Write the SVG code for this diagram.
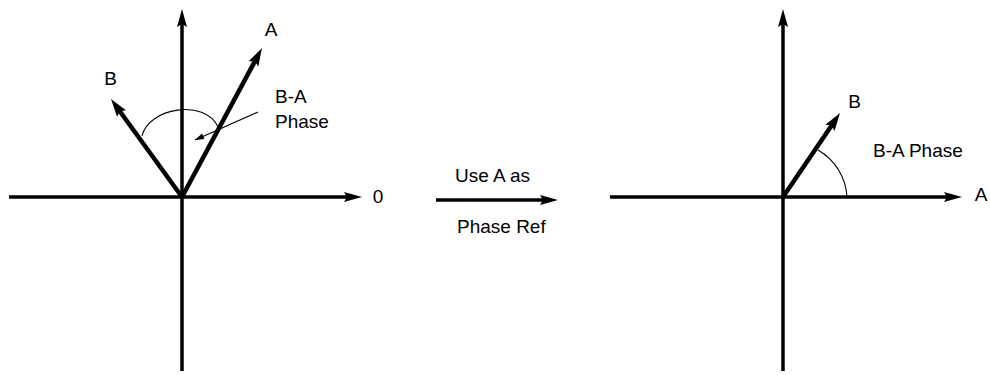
<svg xmlns="http://www.w3.org/2000/svg" width="990" height="375" viewBox="0 0 990 375">
<style>
  text { font-family: "Liberation Sans", Arial, sans-serif; font-size: 19px; fill: #000; }
  .axis { stroke: #000; stroke-width: 3.5; fill: none; }
  .vec { stroke: #000; stroke-width: 4.5; fill: none; }
  .thin { stroke: #000; stroke-width: 1.1; fill: none; }
</style>
<defs>
  <marker id="ah" markerUnits="userSpaceOnUse" markerWidth="20" markerHeight="10" refX="6" refY="5" orient="auto" overflow="visible">
    <path d="M0,0 L18,5 L0,10 L3,5 z" fill="#000"/>
  </marker>
  <marker id="ahv" markerUnits="userSpaceOnUse" markerWidth="20" markerHeight="12" refX="6" refY="5.5" orient="auto" overflow="visible">
    <path d="M0,0 L18,5.5 L0,11 L3,5.5 z" fill="#000"/>
  </marker>
  <marker id="ahs" markerUnits="userSpaceOnUse" markerWidth="10" markerHeight="6" refX="9" refY="3" orient="auto" overflow="visible">
    <path d="M0,0 L9,3 L0,6 z" fill="#000"/>
  </marker>
</defs>

<g id="left-diagram">
  <line class="axis" x1="182" y1="371" x2="182" y2="21" marker-end="url(#ah)"/>
  <line class="axis" x1="9" y1="197" x2="350" y2="197" marker-end="url(#ah)"/>
  <line class="vec" x1="182" y1="197" x2="256.3" y2="58.6" marker-end="url(#ahv)"/>
  <line class="vec" x1="182" y1="197" x2="118" y2="108.7" marker-end="url(#ahv)"/>
  <path class="thin" d="M142,136 C148,108 205,98 218,127"/>
  <line class="thin" x1="258" y1="112" x2="195" y2="140" marker-end="url(#ahs)"/>
  <text x="271" y="36" text-anchor="middle">A</text>
  <text x="110.5" y="85" text-anchor="middle">B</text>
  <text x="275" y="103">B-A</text>
  <text x="275" y="128">Phase</text>
  <text x="378" y="203" text-anchor="middle">0</text>
</g>

<g id="transform-arrow">
  <line class="axis" x1="436" y1="200" x2="546" y2="200" marker-end="url(#ah)"/>
  <text x="455" y="182">Use A as</text>
  <text x="457" y="233">Phase Ref</text>
</g>

<g id="right-diagram">
  <line class="axis" x1="783" y1="371" x2="783" y2="21" marker-end="url(#ah)"/>
  <line class="axis" x1="610" y1="197" x2="950" y2="197" marker-end="url(#ah)"/>
  <line class="vec" x1="783" y1="197" x2="833.3" y2="122.9" marker-end="url(#ahv)"/>
  <path class="thin" d="M818,150 A58 58 0 0 1 847,197"/>
  <text x="854.5" y="108" text-anchor="middle">B</text>
  <text x="873" y="157">B-A Phase</text>
  <text x="981" y="201" text-anchor="middle">A</text>
</g>
</svg>
